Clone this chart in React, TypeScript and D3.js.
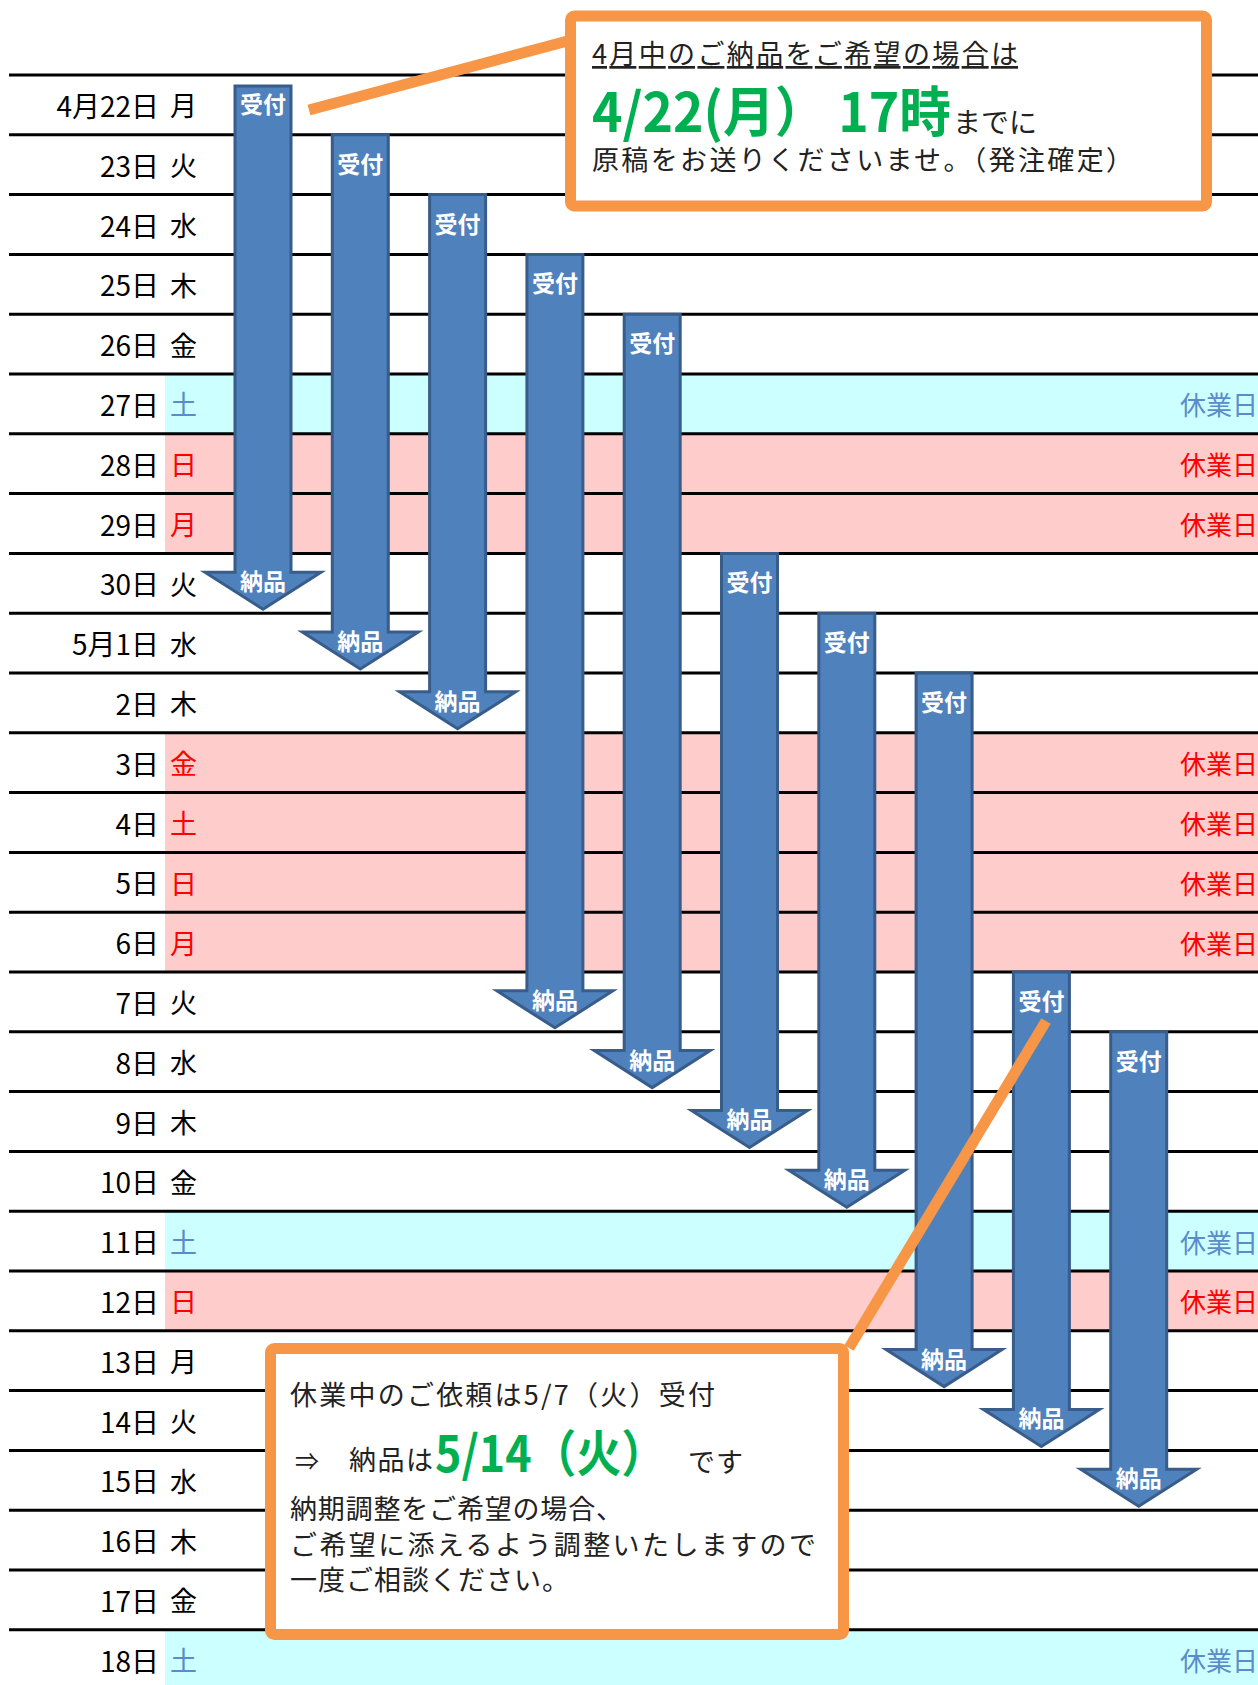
import React, { useEffect } from 'react';
import * as d3 from 'd3';

// rows of the calendar
const days = ['4月22日', '23日', '24日', '25日', '26日', '27日', '28日', '29日', '30日', '5月1日', '2日', '3日', '4日', '5日', '6日', '7日', '8日', '9日', '10日', '11日', '12日', '13日', '14日', '15日', '16日', '17日', '18日'];
const weekdays = ['月', '火', '水', '木', '金', '土', '日', '月', '火', '水', '木', '金', '土', '日', '月', '火', '水', '木', '金', '土', '日', '月', '火', '水', '木', '金', '土'];
// '' = workday, 'sat' = saturday off, 'hol' = sunday / holiday
const dayTypes = ['', '', '', '', '', 'sat', 'hol', 'hol', '', '', '', 'hol', 'hol', 'hol', 'hol', '', '', '', '', 'sat', 'hol', '', '', '', '', '', 'sat'];

// arrows: row where the order is received and row where it is delivered
const receiveRows = [0, 1, 2, 3, 4, 8, 9, 10, 15, 16];
const deliverRows = [8, 9, 10, 15, 16, 17, 18, 21, 22, 23];

const W = 1258;
const H = 1685;
const FONT = '"Noto Sans CJK JP", "Noto Sans", sans-serif';
const ORANGE = '#F79646';
const GREEN = '#00B050';
const BLUE = '#4F81BD';
const BLUE_DARK = '#385D8A';
const SAT_TEXT = '#5B8BC9';
const INK = '#222';

const App = () => {
    useEffect(() => {
        document.body.style.margin = '0';
    }, []);

    const y = d3.scaleLinear().domain([0, days.length]).range([75, 75 + 59.8 * days.length]);
    const x = d3.scaleLinear().domain([0, receiveRows.length - 1]).range([263, 263 + 97.3 * (receiveRows.length - 1)]);
    const rowH = y(1) - y(0);

    const shaftHalf = 28;
    const headHalf = 58;
    const headH = 37;

    const arrowPath = (cx, top, tip) => {
        const p = d3.path();
        p.moveTo(cx - shaftHalf, top);
        p.lineTo(cx + shaftHalf, top);
        p.lineTo(cx + shaftHalf, tip - headH);
        p.lineTo(cx + headHalf, tip - headH);
        p.lineTo(cx, tip);
        p.lineTo(cx - headHalf, tip - headH);
        p.lineTo(cx - shaftHalf, tip - headH);
        p.closePath();
        return p.toString();
    };

    return (
        <svg width={W} height={H} style={{ display: 'block', fontFamily: FONT }}>
            <rect width={W} height={H} fill="#fff" />

            {/* coloured bands for days off */}
            {days.map((d, i) => dayTypes[i] ? (
                <rect key={'b' + i} x={165} y={y(i)} width={W - 165} height={rowH}
                    fill={dayTypes[i] === 'sat' ? '#CCFFFF' : '#FFCCCC'} />
            ) : null)}

            {/* row lines */}
            {days.map((d, i) => (
                <line key={'l' + i} x1={9} x2={W} y1={y(i)} y2={y(i)} stroke="#000" strokeWidth={3} />
            ))}

            {/* labels */}
            {days.map((d, i) => {
                const cy = y(i) + rowH / 2;
                const col = dayTypes[i] === 'sat' ? SAT_TEXT : dayTypes[i] === 'hol' ? '#FF0000' : '#000';
                return (
                    <g key={'t' + i}>
                        <text x={159} y={cy} textAnchor="end" dominantBaseline="central" fontSize={28} fill="#000">{d}</text>
                        <text x={170} y={cy} dominantBaseline="central" fontSize={27} fill={col}>{weekdays[i]}</text>
                        {dayTypes[i] && (
                            <text x={W} y={cy} textAnchor="end" dominantBaseline="central" fontSize={26} fill={col}>休業日</text>
                        )}
                    </g>
                );
            })}

            {/* arrows */}
            {receiveRows.map((r, i) => {
                const cx = x(i);
                const top = y(r) + (r === 0 ? 11 : 0);
                const tip = y(deliverRows[i] + 1) - 4;
                return (
                    <g key={'a' + i}>
                        <path d={arrowPath(cx, top, tip)} fill={BLUE} stroke={BLUE_DARK} strokeWidth={3} />
                        <text x={cx} y={y(r) + 28} textAnchor="middle" dominantBaseline="central"
                            fontSize={23} fontWeight={700} fill="#fff">受付</text>
                        <text x={cx} y={tip - 29} textAnchor="middle" dominantBaseline="central"
                            fontSize={23} fontWeight={700} fill="#fff">納品</text>
                    </g>
                );
            })}

            {/* callout connectors */}
            <line x1={309} y1={110} x2={575} y2={39} stroke={ORANGE} strokeWidth={11} />
            <line x1={1046} y1={1021} x2={849} y2={1348} stroke={ORANGE} strokeWidth={11} />

            {/* top callout */}
            <rect x={570.5} y={16} width={636} height={190} rx={4} fill="#fff" stroke={ORANGE} strokeWidth={11} />
            <text x={592} y={64} fontSize={27} fill={INK} textLength={426} lengthAdjust="spacing"
                style={{ textDecoration: 'underline' }}>4月中のご納品をご希望の場合は</text>
            <text x={592} y={132} fontSize={54} fontWeight={700} fill={GREEN} textLength={359}
                lengthAdjust="spacingAndGlyphs">4/22(月） 17時</text>
            <text x={953} y={133} fontSize={28} fill={INK} textLength={84} lengthAdjust="spacing">までに</text>
            <text x={592} y={170} fontSize={27} fill={INK} textLength={541} lengthAdjust="spacing">原稿をお送りくださいませ。（発注確定）</text>

            {/* bottom callout */}
            <rect x={270.5} y={1348.5} width={573} height={286} rx={4} fill="#fff" stroke={ORANGE} strokeWidth={11} />
            <text x={290} y={1405} fontSize={27} fill={INK} textLength={425} lengthAdjust="spacing">休業中のご依頼は5/7（火）受付</text>
            <text x={295} y={1470} fontSize={24} fill={INK}>⇒</text>
            <text x={349} y={1470} fontSize={27} fill={INK} textLength={84} lengthAdjust="spacing">納品は</text>
            <text x={435} y={1472} fontSize={50} fontWeight={700} fill={GREEN} textLength={231} lengthAdjust="spacingAndGlyphs">5/14（火）</text>
            <text x={688} y={1472} fontSize={27} fill={INK} textLength={55} lengthAdjust="spacing">です</text>
            <text x={290} y={1519} fontSize={27} fill={INK} textLength={333} lengthAdjust="spacing">納期調整をご希望の場合、</text>
            <text x={290} y={1555} fontSize={27} fill={INK} textLength={526} lengthAdjust="spacing">ご希望に添えるよう調整いたしますので</text>
            <text x={290} y={1590} fontSize={27} fill={INK} textLength={279} lengthAdjust="spacing">一度ご相談ください。</text>
        </svg>
    );
};

export default App;
